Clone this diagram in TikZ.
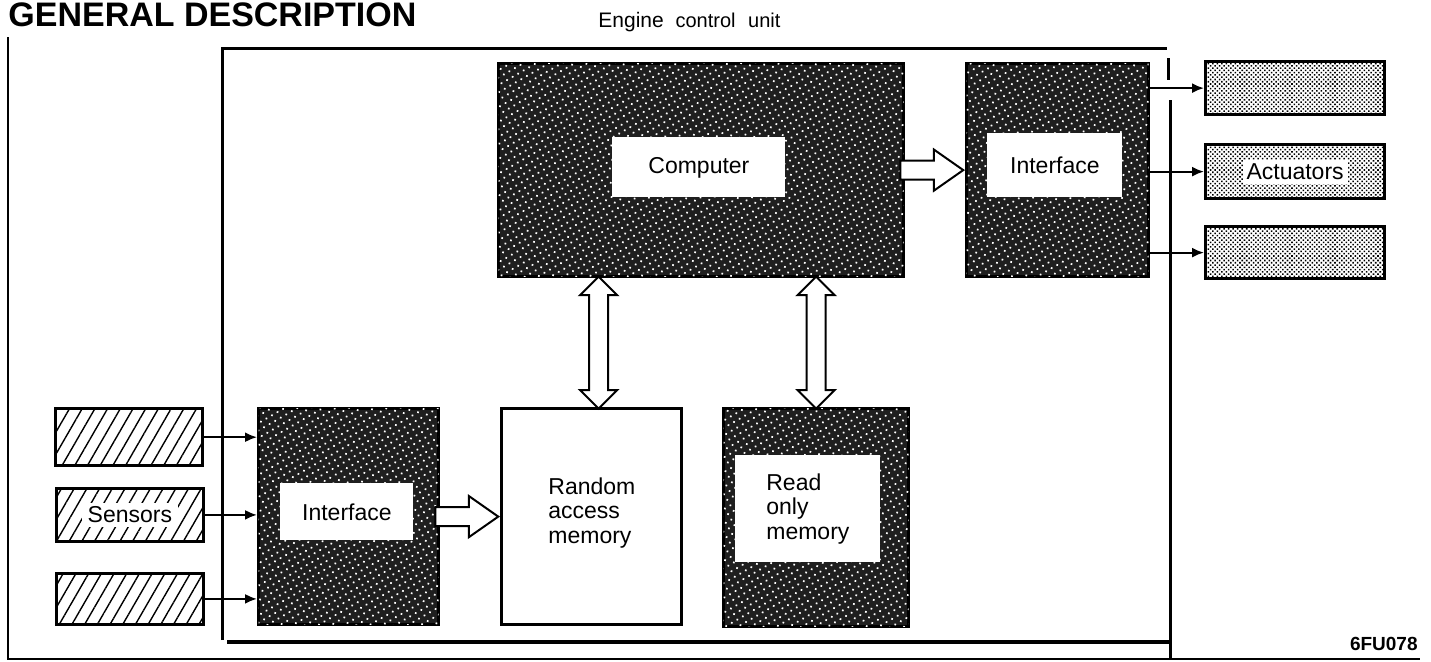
\documentclass[tikz,border=0pt]{standalone}
\usepackage{fontspec}
\setmainfont{Liberation Sans}
\usetikzlibrary{patterns,patterns.meta,shapes.arrows,arrows.meta,calc}

\tikzset{
  blk/.style={draw,line width=1.6pt,inner sep=0pt,anchor=north west},
  speckle/.style={blk,fill=black!88,postaction={pattern={Dots[distance=3.2pt,radius=0.6pt,angle=30]},pattern color=white}},
  hatchbox/.style={blk,line width=1.4pt,pattern={Lines[angle=60,distance=5.5pt,line width=0.7pt]}},
  actbox/.style={blk,pattern={Dots[distance=1.6pt,radius=0.55pt,angle=45]}},
  lbl/.style={fill=white,inner sep=0pt,anchor=north west,font=\fontsize{11.5}{12.3}\selectfont},
  hollow/.style={draw,line width=1pt,fill=white,inner sep=4.25pt},
  frame/.style={line width=1.5pt},
  thinframe/.style={line width=1pt},
  feed/.style={line width=1pt,-{Latex[length=6pt,width=5pt]}},
}

\begin{document}
\begin{tikzpicture}[x=0.5pt,y=0.5pt,yscale=-1,xscale=1]
\useasboundingbox (0,0) rectangle (1431,661);

% Outer frame
\draw [thinframe] (8,37) -- (8,659) -- (1420,659);
% Engine control unit frame
\draw [frame] (222,640) -- (222,48) -- (1167,48);
\draw [frame] (1168,58) -- (1168,80);
\draw [frame] (1170,100) -- (1170,659);
\draw [line width=2pt] (227,642) -- (1170,642);

% Text Node
\node (title) [anchor=base west,inner sep=0pt,font=\bfseries\fontsize{17}{20}\selectfont] at (8,26) {GENERAL DESCRIPTION};
% Text Node
\node (ecu) [anchor=base west,inner sep=0pt] at (598,27) {\fontsize{10.5}{12}\selectfont Engine\hspace{3pt} {\fontsize{10}{11}\selectfont control\hspace{3.5pt} unit}};
% Text Node
\node (code) [anchor=base east,inner sep=0pt,font=\bfseries\fontsize{9.5}{11}\selectfont] at (1418,650) {6FU078};

% Computer
\node (comp) [speckle,minimum width=202.5pt,minimum height=106.5pt] at (497,62) {};
\node (compl) [lbl,minimum width=86.5pt,minimum height=30pt] at (612,137) {Computer};
% Output interface
\node (ifr) [speckle,minimum width=91pt,minimum height=106.5pt] at (965,62) {};
\node (ifrl) [lbl,minimum width=67.5pt,minimum height=32pt] at (987,133) {Interface};

% Actuators
\node (act1) [actbox,minimum width=89.5pt,minimum height=26.5pt] at (1204,60) {};
\node (act2) [actbox,minimum width=89.5pt,minimum height=27pt] at (1204,143) {};
\node (act2l) [lbl,inner sep=2pt,anchor=center] at (act2.center) {Actuators};
\node (act3) [actbox,minimum width=89.5pt,minimum height=26pt] at (1204,225) {};

% Sensors
\node (sen1) [hatchbox,minimum width=73.5pt,minimum height=28.5pt] at (55,408) {};
\node (sen2) [hatchbox,minimum width=73.5pt,minimum height=26.5pt] at (55,487) {};
\node (sen2l) [lbl,inner xsep=3pt,inner ysep=2pt,anchor=center] at (sen2.center) {Sensors};
\node (sen3) [hatchbox,minimum width=73.5pt,minimum height=25.5pt] at (55,572) {};

% Input interface
\node (ifl) [speckle,minimum width=90pt,minimum height=108pt] at (257,407) {};
\node (ifll) [lbl,minimum width=66.5pt,minimum height=28.5pt] at (280,483) {Interface};

% Memories
\node (ram) [blk,fill=white,minimum width=90pt,minimum height=108pt] at (500,407) {};
\node (raml) [anchor=west,inner sep=0pt,align=left,font=\fontsize{11.5}{12.3}\selectfont] at (548,513) {Random\\access\\memory};
\node (rom) [speckle,minimum width=92.5pt,minimum height=109pt] at (722,407) {};
\node (roml) [lbl,minimum width=72.5pt,minimum height=53.5pt,align=left] at (735,455) {Read\\only\\memory};

% Sensor lines
\draw [feed] (sen1.east) -- (sen1.east -| ifl.west);
\draw [feed] (sen2.east) -- (sen2.east -| ifl.west);
\draw [feed] (sen3.east) -- (sen3.east -| ifl.west);
% Actuator lines
\draw [feed] (act1.west -| ifr.east) -- (act1.west);
\draw [feed] (act2.west -| ifr.east) -- (act2.west);
\draw [feed] (act3.west -| ifr.east) -- (act3.west);

% Data paths
\node (busa) [hollow,single arrow,single arrow head extend=5.5pt,single arrow tip angle=70,minimum height=31.5pt,anchor=tip] at (ifr.west) {};
\node (busb) [hollow,single arrow,single arrow head extend=5.5pt,single arrow tip angle=70,minimum height=31.5pt,anchor=tip] at (ram.west) {};
\node (busc) [hollow,double arrow,double arrow head extend=4.5pt,minimum height=66pt,rotate=90] at ($($(ram.north)+(7,0)$)!0.5!($(ram.north |- comp.south)+(7,0)$)$) {};
\node (busd) [hollow,double arrow,double arrow head extend=4.5pt,minimum height=66pt,rotate=90] at ($(rom.north)!0.5!(rom.north |- comp.south)$) {};
\end{tikzpicture}
\end{document}
